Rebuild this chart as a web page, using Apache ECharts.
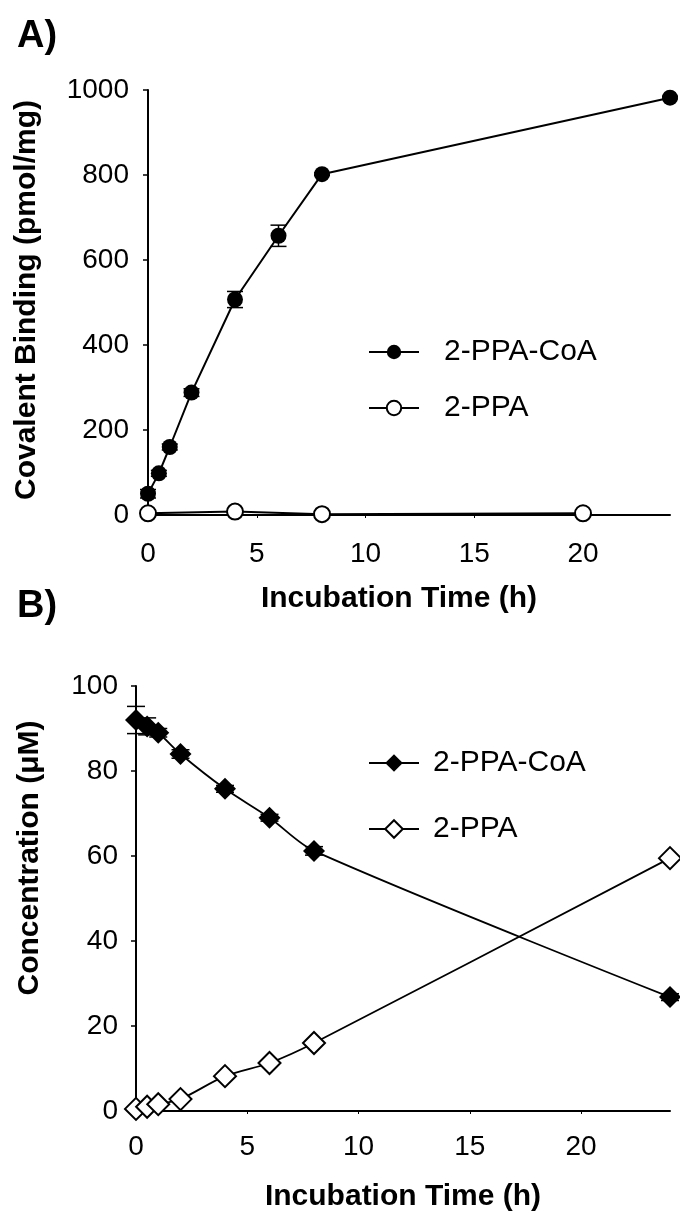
<!DOCTYPE html>
<html><head><meta charset="utf-8">
<script src="https://cdn.jsdelivr.net/npm/echarts@6/dist/echarts.min.js"></script>
<style>html,body{margin:0;padding:0;background:#fff;} .c{position:absolute;left:0;top:0;width:680px;height:1215px;}</style>
</head><body>
<div id="a" class="c"></div><div id="b" class="c"></div>
<script>
// ---- data ----
const seriesNames = ['2-PPA-CoA', '2-PPA'];
const xTickValues = [0, 5, 10, 15, 20];
const xMax = 24;
const yTicksA = [0, 200, 400, 600, 800, 1000];
const yTicksB = [0, 20, 40, 60, 80, 100];

const timesA_CoA = [0, 0.5, 1, 2, 4, 6, 8, 24];
const bindA_CoA  = [50, 98, 160, 288, 507, 657, 802, 982];
const errA_CoA   = [10, 7, 7, 9, 19, 25, 3, 3];
const timesA_PPA = [0, 4, 8, 20];
const bindA_PPA  = [4, 8, 2, 4];

const timesB     = [0, 0.5, 1, 2, 4, 6, 8, 24];
const concB_CoA  = [92, 90.5, 89, 84, 75.8, 69, 61.2, 26.8];
const errB_CoA   = [3.2, 2, 1, 1, 0.8, 0.8, 1, 0.8];
const concB_PPA  = [0.5, 1, 1.6, 2.8, 8.2, 11.3, 16, 59.5];

const FONT = '"Liberation Sans", Arial, Helvetica, sans-serif';

function pairs(xs, ys) { return xs.map((x, i) => [x, ys[i]]); }

function errSeries(xs, ys, es, cap) {
  return {
    type: 'custom', silent: true, z: 1,
    encode: { x: 0, y: [1, 2] },
    data: xs.map((x, i) => [x, ys[i] - es[i], ys[i] + es[i]]),
    renderItem: (params, api) => {
      const lo = api.coord([api.value(0), api.value(1)]);
      const hi = api.coord([api.value(0), api.value(2)]);
      const st = { stroke: '#000', lineWidth: 1.5 };
      return { type: 'group', children: [
        { type: 'line', shape: { x1: lo[0], y1: lo[1], x2: hi[0], y2: hi[1] }, style: st },
        { type: 'line', shape: { x1: lo[0] - cap, y1: lo[1], x2: lo[0] + cap, y2: lo[1] }, style: st },
        { type: 'line', shape: { x1: hi[0] - cap, y1: hi[1], x2: hi[0] + cap, y2: hi[1] }, style: st }
      ]};
    }
  };
}

function xAxisCfg(nameGap, namePad, labelMargin) {
  return {
    type: 'value', min: xTickValues[0], max: xMax,
    interval: xTickValues[1] - xTickValues[0],
    name: 'Incubation Time (h)', nameLocation: 'middle', nameGap: nameGap,
    nameTextStyle: { fontFamily: FONT, fontWeight: 'bold', fontSize: 30, color: '#000', padding: namePad },
    axisLine: { show: true, lineStyle: { color: '#000', width: 2 } },
    axisTick: { show: true, length: 3, lineStyle: { color: '#000', width: 1 } },
    axisLabel: { fontFamily: FONT, fontSize: 28, color: '#000', margin: labelMargin, showMaxLabel: false },
    splitLine: { show: false }
  };
}
function yAxisCfg(ticks, labelMargin) {
  return {
    type: 'value', min: ticks[0], max: ticks[ticks.length - 1], interval: ticks[1] - ticks[0],
    axisLine: { show: true, lineStyle: { color: '#000', width: 2 } },
    axisTick: { show: true, length: 5, lineStyle: { color: '#000', width: 1.5 } },
    axisLabel: { fontFamily: FONT, fontSize: 28, color: '#000', margin: labelMargin,
      formatter: v => String(v) },
    splitLine: { show: false }
  };
}
function panelLabel(txt, x, y) {
  return { type: 'text', x: x, y: y, style: { text: txt, fill: '#000', fontFamily: FONT, fontWeight: 'bold', fontSize: 38 } };
}
function yTitle(txt, x, y) {
  return { type: 'text', x: x, y: y, rotation: Math.PI / 2,
    style: { text: txt, fill: '#000', fontFamily: FONT, fontWeight: 'bold', fontSize: 30,
      align: 'center', verticalAlign: 'middle', textAlign: 'center', textVerticalAlign: 'middle' } };
}

// ---- Panel A ----
const chartA = echarts.init(document.getElementById('a'), null, { renderer: 'canvas' });
chartA.setOption({
  animation: false,
  grid: { left: 148, top: 90, width: 522, height: 425, containLabel: false },
  xAxis: xAxisCfg(69, [0, 20, 0, 0], 25),
  yAxis: yAxisCfg(yTicksA, 19),
  legend: {
    orient: 'vertical', left: 368, top: 337, padding: 0, itemWidth: 50, itemHeight: 18, itemGap: 26,
    data: seriesNames,
    textStyle: { fontFamily: FONT, fontSize: 30, color: '#000', padding: [0, 0, 0, 20] }
  },
  graphic: [ panelLabel('A)', 17, 18), yTitle('Covalent Binding (pmol/mg)', 27, 300) ],
  series: [
    errSeries(timesA_CoA, bindA_CoA, errA_CoA, 8),
    { name: seriesNames[0], type: 'line', data: pairs(timesA_CoA, bindA_CoA), z: 3,
      symbol: 'circle', symbolSize: 16, itemStyle: { color: '#000' },
      lineStyle: { color: '#000', width: 2 } },
    { name: seriesNames[1], type: 'line', data: pairs(timesA_PPA, bindA_PPA), z: 3,
      symbol: 'circle', symbolSize: 16, itemStyle: { color: '#fff', borderColor: '#000', borderWidth: 2 },
      lineStyle: { color: '#000', width: 2 } }
  ]
});

// ---- Panel B ----
const chartB = echarts.init(document.getElementById('b'), null, { renderer: 'canvas' });
chartB.setOption({
  animation: false,
  grid: { left: 136, top: 686, width: 534, height: 425, containLabel: false },
  xAxis: xAxisCfg(71, [0, 0, 0, 0], 22),
  yAxis: yAxisCfg(yTicksB, 18),
  legend: {
    orient: 'vertical', left: 368, top: 748, padding: 0, itemWidth: 50, itemHeight: 22, itemGap: 36,
    data: seriesNames,
    textStyle: { fontFamily: FONT, fontSize: 30, color: '#000', padding: [0, 0, 0, 9] }
  },
  graphic: [ panelLabel('B)', 17, 588), yTitle('Concentration (\u03bcM)', 30, 858) ],
  series: [
    errSeries(timesB, concB_CoA, errB_CoA, 9),
    { name: seriesNames[0], type: 'line', data: pairs(timesB, concB_CoA), z: 3, smooth: 0.3,
      symbol: 'diamond', symbolSize: 22, itemStyle: { color: '#000' },
      lineStyle: { color: '#000', width: 1.8 } },
    { name: seriesNames[1], type: 'line', data: pairs(timesB, concB_PPA), z: 3, smooth: 0.3,
      symbol: 'diamond', symbolSize: 22, itemStyle: { color: '#fff', borderColor: '#000', borderWidth: 2 },
      lineStyle: { color: '#000', width: 1.8 } }
  ]
});
</script>
</body></html>
